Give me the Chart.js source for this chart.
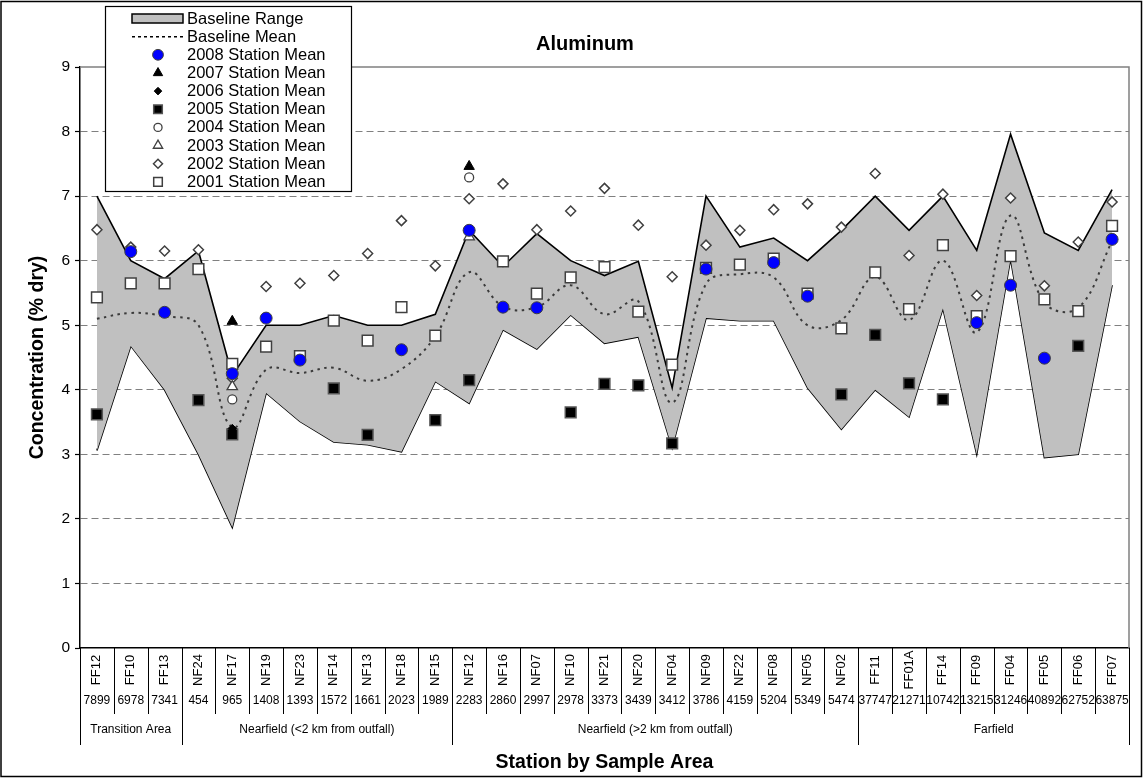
<!DOCTYPE html>
<html>
<head>
<meta charset="utf-8">
<script src="https://cdn.jsdelivr.net/npm/chart.js@4.4.0/dist/chart.umd.min.js"></script>
<style>
html,body{margin:0;padding:0;background:#fff;}
#wrap{position:relative;width:1143px;height:778px;}
</style>
</head>
<body>
<div id="wrap"><canvas id="c"></canvas></div>
<script>
// ---------------- DATA ----------------
const chartTitle = 'Aluminum';
const yAxisTitle = 'Concentration (% dry)';
const xAxisTitle = 'Station by Sample Area';

const stations = ['FF12','FF10','FF13','NF24','NF17','NF19','NF23','NF14','NF13','NF18','NF15',
  'NF12','NF16','NF07','NF10','NF21','NF20','NF04','NF09','NF22','NF08','NF05','NF02',
  'FF11','FF01A','FF14','FF09','FF04','FF05','FF06','FF07'];
const stationNumbers = ['7899','6978','7341','454','965','1408','1393','1572','1661','2023','1989',
  '2283','2860','2997','2978','3373','3439','3412','3786','4159','5204','5349','5474',
  '37747','21271','10742','13215','31246','40892','62752','63875'];
const areaNames = ['Transition Area','Nearfield (<2 km from outfall)','Nearfield (>2 km from outfall)','Farfield'];
const areaCounts = [3, 8, 12, 8];
const yTicks = [0,1,2,3,4,5,6,7,8,9];

const baselineMax = [7.00,6.00,5.72,6.15,4.22,5.00,5.00,5.15,5.00,5.00,5.17,
  6.47,5.91,6.42,6.00,5.77,5.99,4.03,7.00,6.21,6.35,6.00,6.47,
  7.00,6.47,7.00,6.16,7.96,6.43,6.16,7.10];
const baselineMin = [3.06,4.68,4.00,3.00,1.87,3.95,3.51,3.19,3.15,3.04,4.13,
  3.79,4.93,4.63,5.16,4.72,4.82,3.10,5.11,5.07,5.07,4.03,3.39,
  4.00,3.58,5.26,3.00,6.03,2.95,3.00,5.62];
const baselineMean = [5.10,5.19,5.14,5.00,3.42,4.31,4.26,4.34,4.14,4.32,4.83,
  5.82,5.29,5.28,5.62,5.17,5.37,3.80,5.64,5.79,5.74,5.00,5.08,
  5.75,5.08,6.00,4.89,6.70,5.35,5.27,6.30];

const mean2008 = [null,6.14,5.20,null,4.25,5.11,4.46,null,null,4.62,null,
  6.47,5.28,5.27,null,null,null,null,5.87,null,5.97,5.45,null,
  null,null,null,5.04,5.62,4.49,null,6.33];
const mean2007 = [null,null,null,null,5.06,null,null,null,null,null,null,
  7.46,null,null,null,null,null,null,null,null,null,null,null,
  null,null,null,null,null,null,null,null];
const mean2006 = [null,null,null,null,3.40,null,null,null,null,null,null,
  null,null,null,null,null,null,null,null,null,null,null,null,
  null,null,null,null,null,null,null,null];
const mean2005 = [3.62,null,null,3.84,3.31,null,null,4.02,3.30,null,3.53,
  4.15,null,null,3.65,4.09,4.07,3.17,null,null,null,null,3.93,
  4.85,4.10,3.85,null,null,null,4.68,null];
const mean2004 = [null,null,null,null,3.85,null,null,null,null,null,null,
  7.29,null,null,null,null,null,null,null,null,null,null,null,
  null,null,null,null,null,null,null,null];
const mean2003 = [null,null,null,null,4.05,null,null,null,null,null,null,
  6.37,null,null,null,null,null,null,null,null,null,null,null,
  null,null,null,null,null,null,null,null];
const mean2002 = [6.48,6.21,6.15,6.17,4.18,5.60,5.65,5.77,6.11,6.62,5.92,
  6.96,7.19,6.48,6.77,7.12,6.55,5.75,6.24,6.47,6.79,6.88,6.52,
  7.35,6.08,7.03,5.46,6.97,5.61,6.29,6.91];
const mean2001 = [5.43,5.65,5.65,5.87,4.40,4.67,4.52,5.07,4.76,5.28,4.84,
  null,5.99,5.49,5.74,5.90,5.21,4.39,5.89,5.94,6.03,5.49,4.95,
  5.82,5.25,6.24,5.14,6.07,5.40,5.22,6.54];

// ---------------- STYLE ----------------
const FONT = "'Liberation Sans', Arial, Helvetica, sans-serif";

function markerSet(label, data, style, radius, bg, border, bw, order) {
  return {
    label, data, showLine: false, order,
    pointStyle: style, pointRadius: radius, pointHoverRadius: radius,
    pointBackgroundColor: bg, pointBorderColor: border, pointBorderWidth: bw,
    borderColor: border, backgroundColor: bg
  };
}

const datasets = [
  { label: 'Baseline Range', data: baselineMax, borderColor: '#000', borderWidth: 1.6,
    backgroundColor: '#C0C0C0', fill: '+1', pointRadius: 0, tension: 0, order: 20 },
  { label: 'Baseline Range (min)', data: baselineMin, borderColor: '#000', borderWidth: 1.6,
    pointRadius: 0, tension: 0, fill: false, order: 21 },
  { label: 'Baseline Mean', data: baselineMean, borderColor: '#3a3a3a', borderWidth: 2,
    borderDash: [2.5, 4.5], pointRadius: 0, tension: 0.4, fill: false, order: 15 },
  markerSet('2008 Station Mean', mean2008, 'circle', 6, '#0000FF', '#404040', 1, 1),
  markerSet('2007 Station Mean', mean2007, 'triangle', 6, '#000000', '#000000', 1, 2),
  markerSet('2006 Station Mean', mean2006, 'rectRot', 4.2, '#000000', '#000000', 1, 3),
  markerSet('2005 Station Mean', mean2005, 'rect', 7.6, '#000000', '#555555', 1.5, 4),
  markerSet('2004 Station Mean', mean2004, 'circle', 4.5, '#FFFFFF', '#404040', 1.3, 5),
  markerSet('2003 Station Mean', mean2003, 'triangle', 6, '#FFFFFF', '#404040', 1.3, 6),
  markerSet('2002 Station Mean', mean2002, 'rectRot', 5, '#FFFFFF', '#404040', 1.5, 7),
  markerSet('2001 Station Mean', mean2001, 'rect', 7.6, '#FFFFFF', '#404040', 1.5, 8)
];

// ---------------- PLUGINS ----------------
const framePlugin = {
  id: 'frame',
  beforeDraw(chart) {
    const ctx = chart.ctx;
    ctx.save();
    ctx.fillStyle = '#fff';
    ctx.fillRect(0, 0, chart.width, chart.height);
    ctx.restore();
  },
  beforeDatasetsDraw(chart) {
    const {ctx, chartArea: a} = chart;
    ctx.save();
    ctx.strokeStyle = '#808080';
    ctx.lineWidth = 1.5;
    ctx.beginPath();
    ctx.moveTo(a.left, a.top);
    ctx.lineTo(a.right, a.top);
    ctx.lineTo(a.right, a.bottom);
    ctx.stroke();
    ctx.restore();
  },
  afterDraw(chart) {
    const {ctx, chartArea: a, scales: {x}} = chart;
    ctx.save();
    // title
    ctx.fillStyle = '#000';
    ctx.font = 'bold 20px ' + FONT;
    ctx.textAlign = 'center';
    ctx.textBaseline = 'middle';
    ctx.fillText(chartTitle, 585, 44);

    // category table under the axis
    const n = stations.length;
    const half = (x.getPixelForValue(1) - x.getPixelForValue(0)) / 2;
    const y0 = a.bottom;
    ctx.strokeStyle = '#000';
    ctx.lineWidth = 1;
    ctx.beginPath();
    for (let i = 0; i <= n; i++) {
      const xb = Math.round((i < n ? x.getPixelForValue(i) - half : x.getPixelForValue(n - 1) + half)) + 0.5;
      ctx.moveTo(xb, y0);
      ctx.lineTo(xb, y0 + 66);
    }
    let idx = 0;
    const groupEdges = [0];
    areaCounts.forEach(c => { idx += c; groupEdges.push(idx); });
    groupEdges.forEach(e => {
      const xb = Math.round(e < n ? x.getPixelForValue(e) - half : x.getPixelForValue(n - 1) + half) + 0.5;
      ctx.moveTo(xb, y0 + 66);
      ctx.lineTo(xb, y0 + 97);
    });
    ctx.stroke();

    ctx.fillStyle = '#000';
    for (let i = 0; i < n; i++) {
      const cx = x.getPixelForValue(i);
      ctx.save();
      ctx.font = '13px ' + FONT;
      ctx.translate(cx, y0 + 22);
      ctx.rotate(-Math.PI / 2);
      ctx.textAlign = 'center';
      ctx.textBaseline = 'middle';
      ctx.fillText(stations[i], 0, 0);
      ctx.restore();
      ctx.font = '12px ' + FONT;
      ctx.textAlign = 'center';
      ctx.textBaseline = 'middle';
      ctx.fillText(stationNumbers[i], cx, y0 + 53);
    }
    ctx.font = '12px ' + FONT;
    for (let g = 0; g < areaNames.length; g++) {
      const s = groupEdges[g], e = groupEdges[g + 1] - 1;
      const cx = (x.getPixelForValue(s) + x.getPixelForValue(e)) / 2;
      ctx.fillText(areaNames[g], cx, y0 + 82);
    }

    // legend box
    const lx = 105.5, ly = 6.5, lw = 246, lh = 185;
    ctx.fillStyle = '#fff';
    ctx.fillRect(lx, ly, lw, lh);
    ctx.strokeStyle = '#000';
    ctx.lineWidth = 1.2;
    ctx.strokeRect(lx, ly, lw, lh);
    const textX = 187, symX = 158, rowH = 18.15, firstY = 18.5;
    ctx.font = '16.5px ' + FONT;
    ctx.textAlign = 'left';
    ctx.textBaseline = 'middle';
    const legendSets = [datasets[0], datasets[2]].concat(datasets.slice(3));
    legendSets.forEach((ds, i) => {
      const yy = firstY + i * rowH;
      ctx.fillStyle = '#000';
      ctx.fillText(ds.label, textX, yy + 0.5);
      if (i === 0) {
        ctx.fillStyle = ds.backgroundColor;
        ctx.fillRect(132, yy - 4.5, 51, 9);
        ctx.strokeStyle = '#000';
        ctx.lineWidth = 1.5;
        ctx.strokeRect(132, yy - 4.5, 51, 9);
      } else if (i === 1) {
        ctx.save();
        ctx.strokeStyle = '#000';
        ctx.lineWidth = 1.5;
        ctx.setLineDash([3, 3]);
        ctx.beginPath();
        ctx.moveTo(132, yy);
        ctx.lineTo(185, yy);
        ctx.stroke();
        ctx.restore();
      } else {
        ctx.save();
        ctx.fillStyle = ds.pointBackgroundColor;
        ctx.strokeStyle = ds.pointBorderColor;
        ctx.lineWidth = ds.pointBorderWidth;
        const r = ds.pointStyle === 'rect' ? ds.pointRadius * 0.8 : ds.pointRadius * 0.9;
        Chart.helpers.drawPoint(ctx, {pointStyle: ds.pointStyle, radius: r, rotation: 0, borderWidth: ds.pointBorderWidth}, symX, yy);
        ctx.restore();
      }
    });

    // outer chart border
    ctx.strokeStyle = '#000';
    ctx.lineWidth = 1.5;
    ctx.strokeRect(1, 1.5, chart.width - 2.5, chart.height - 3);
    ctx.restore();
  }
};

// ---------------- CHART ----------------
new Chart(document.getElementById('c'), {
  type: 'line',
  data: { labels: stations, datasets },
  plugins: [framePlugin],
  options: {
    responsive: true,
    maintainAspectRatio: false,
    animation: false,
    events: [],
    layout: { padding: { top: 67, right: 14, left: 0, bottom: 0 } },
    plugins: {
      legend: { display: false },
      tooltip: { enabled: false },
      title: { display: false },
      filler: { propagate: false }
    },
    scales: {
      x: {
        type: 'category',
        offset: true,
        grid: { display: true, drawOnChartArea: false, drawTicks: false, offset: true },
        border: { display: true, color: '#000', width: 1.5 },
        ticks: { display: false },
        title: {
          display: true, text: xAxisTitle, color: '#000',
          font: { family: FONT, size: 19.5, weight: 'bold' },
          padding: { top: 0, bottom: 4 }
        },
        afterFit(scale) { scale.height = 130; }
      },
      y: {
        min: 0, max: 9,
        afterBuildTicks(scale) { scale.ticks = yTicks.map(v => ({ value: v })); },
        ticks: {
          color: '#000', padding: 5,
          font: { family: FONT, size: 15.5 }
        },
        grid: {
          color: c => (c.tick && (c.tick.value === 0 || c.tick.value === 9)) ? 'rgba(0,0,0,0)' : '#808080',
          lineWidth: 1,
          tickColor: '#000',
          tickLength: 5,
          tickWidth: 1.2,
          tickBorderDash: []
        },
        border: { display: true, color: '#000', width: 1.5, dash: [7, 4] },
        title: {
          display: true, text: yAxisTitle, color: '#000',
          font: { family: FONT, size: 19.5, weight: 'bold' },
          padding: { top: 26, bottom: 0 }
        },
        afterFit(scale) { scale.width = 80; }
      }
    }
  }
});
</script>
</body>
</html>
